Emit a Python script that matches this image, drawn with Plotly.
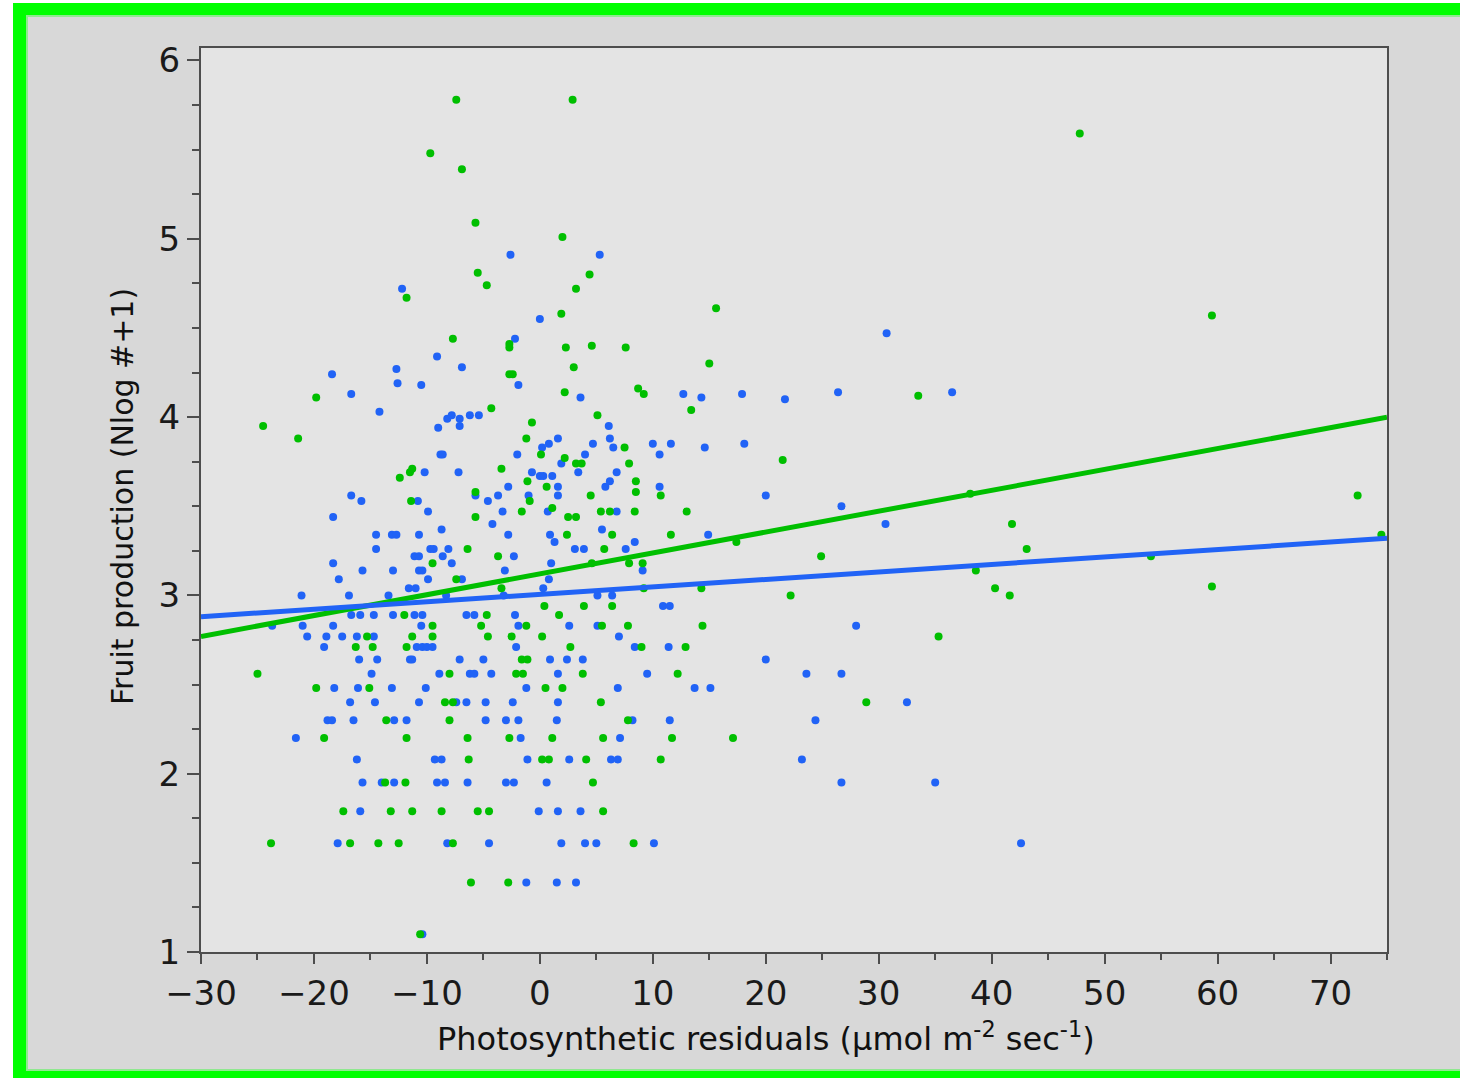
import plotly.graph_objects as go

# ---------------- data ----------------
green_x = [-7.4, 2.9, -9.7, -6.9, -5.7, 2.0, -5.5, 4.4, -4.7, 3.2, -11.8, 1.9, 47.8, 59.5, 15.6, -7.7, -2.7, -2.7, 2.3, 4.6,
           7.6, 3.0, 15.0, -2.7, -2.4, -19.8, 2.2, 8.7, 9.2, 33.5, -4.3, 13.4, -24.5, -0.7, 5.1, -21.4, -1.2, 7.5, 0.1, 2.2,
           3.2, 3.7, 7.9, 21.5, -12.4, -11.5, -11.3, -3.4, -1.1, 0.6, 8.5, 8.5, -5.7, -5.7, -0.9, 4.5, 10.7, 1.1, -1.6, 2.5,
           3.2, 5.4, 6.2, 8.4, 13.0, -11.4, 38.1, 72.4, 41.8, 43.1, 74.5, 54.1, 2.4, 6.4, 11.6, 17.4, -6.4, 5.7, -3.7, 24.9,
           -9.5, 4.6, 7.9, 9.1, 38.6, -7.4, -3.4, 9.2, 14.3, 40.3, 59.5, 22.2, 41.6, 0.4, 3.9, 6.4, -12.0, -4.7, 1.7, -9.5,
           -5.2, -1.2, 5.5, 7.8, 14.4, -15.3, -11.3, -9.5, -4.6, -2.5, 0.2, 35.3, -16.3, -14.8, -11.8, 2.7, 9.0, 12.9, -1.6, -1.1,
           -25.0, -8.0, -2.1, -1.5, 3.8, 12.2, -19.8, -15.1, 0.5, 2.0, -8.4, -7.7, 5.4, 28.9, -13.6, -8.0, 7.8, -19.1, -11.8, -6.4,
           -2.7, 1.1, 5.6, 11.7, 17.1, -6.3, 0.2, 0.8, 4.1, 10.7, -13.7, -11.9, 4.7, -17.4, -13.2, -11.3, -8.7, -5.5, -4.5, 5.6,
           -23.8, -16.8, -14.3, -12.5, -7.7, 8.3, -6.1, -2.8, -10.6]
green_y = [5.78, 5.78, 5.48, 5.39, 5.09, 5.01, 4.81, 4.80, 4.74, 4.72, 4.67, 4.58, 5.59, 4.57, 4.61, 4.44, 4.41, 4.39, 4.39, 4.40,
           4.39, 4.28, 4.30, 4.24, 4.24, 4.11, 4.14, 4.16, 4.13, 4.12, 4.05, 4.04, 3.95, 3.97, 4.01, 3.88, 3.88, 3.83, 3.79, 3.77,
           3.74, 3.74, 3.74, 3.76, 3.66, 3.69, 3.71, 3.71, 3.64, 3.61, 3.64, 3.58, 3.58, 3.44, 3.53, 3.56, 3.56, 3.49, 3.47, 3.44,
           3.44, 3.47, 3.47, 3.47, 3.47, 3.53, 3.57, 3.56, 3.40, 3.26, 3.34, 3.22, 3.34, 3.34, 3.34, 3.30, 3.26, 3.26, 3.22, 3.22,
           3.18, 3.18, 3.18, 3.18, 3.14, 3.09, 3.04, 3.04, 3.04, 3.04, 3.05, 3.00, 3.00, 2.94, 2.94, 2.94, 2.89, 2.89, 2.89, 2.83,
           2.83, 2.83, 2.83, 2.83, 2.83, 2.77, 2.77, 2.77, 2.77, 2.77, 2.77, 2.77, 2.71, 2.71, 2.71, 2.71, 2.71, 2.71, 2.64, 2.64,
           2.56, 2.56, 2.56, 2.56, 2.56, 2.56, 2.48, 2.48, 2.48, 2.48, 2.40, 2.40, 2.40, 2.40, 2.30, 2.30, 2.30, 2.20, 2.20, 2.20,
           2.20, 2.20, 2.20, 2.20, 2.20, 2.08, 2.08, 2.08, 2.08, 2.08, 1.95, 1.95, 1.95, 1.79, 1.79, 1.79, 1.79, 1.79, 1.79, 1.79,
           1.61, 1.61, 1.61, 1.61, 1.61, 1.61, 1.39, 1.39, 1.10]

blue_x = [-2.6, 5.3, -12.2, 0.0, 30.7, -2.2, -9.1, -6.9, -18.4, -12.7, -12.6, -10.5, -1.9, -16.7, 3.6, 12.7, 14.3, 17.9, 21.7, 26.4,
          36.5, -14.2, -8.2, -7.8, -7.1, -7.1, -6.2, -5.4, -9.0, 6.1, 0.2, 0.8, 1.6, 4.7, 6.2, 6.5, -8.8, -8.6, -2.0, 4.0,
          1.9, 10.0, 11.6, 10.6, 14.6, 18.1, -10.2, -7.2, -0.7, 0.0, 0.3, 1.1, 3.4, 6.8, -2.8, 1.6, 5.8, 6.2, 10.6, -16.7,
          -15.8, -10.8, -5.7, -4.6, -3.7, -1.0, 1.6, 20.0, 26.7, -9.9, -3.3, 0.7, 6.8, -18.3, 30.6, -4.2, -8.7, 5.5, -14.5, -13.1,
          -12.7, -10.7, -2.8, 0.9, 1.3, 14.9, 8.4, -14.5, -9.7, -9.4, -8.1, 3.1, 3.9, 7.6, -11.1, -10.7, -8.6, -2.3, -18.3, -7.8,
          1.0, -15.7, -13.0, -10.7, -10.4, -3.1, 9.1, -17.8, -9.9, -6.9, 0.8, -11.6, -11.0, 0.3, -21.1, -16.9, -13.4, -8.3, -3.2, 5.1,
          6.4, 10.9, 11.5, -16.7, -15.9, -14.7, -13.0, -11.1, -10.4, -6.5, -5.8, -2.2, -23.7, -21.0, -18.3, -10.5, -1.9, 2.6, 5.1, 28.0,
          -20.6, -18.9, -17.5, -16.2, -14.7, 7.0, -19.1, -10.9, -10.4, -10.0, -9.5, -2.1, 8.4, 11.4, -16.0, -14.4, -11.5, -11.3, -7.1, -5.0,
          0.9, 2.4, 3.8, 20.0, -14.9, -8.9, -6.2, -5.8, -4.3, 1.6, 9.5, 23.6, 26.7, -18.2, -16.1, -13.1, -10.1, -1.2, 6.9, 13.7,
          15.1, -16.8, -14.6, -10.7, -7.4, -6.5, -4.8, -2.4, 1.6, 32.5, -18.8, -18.4, -16.5, -12.9, -11.8, -4.8, -3.0, -1.9, 1.5, 8.2,
          11.5, 24.4, -21.6, -1.7, 7.1, -16.2, -9.3, -8.7, -1.1, 2.6, 6.3, 6.9, 23.2, -15.7, -14.0, -12.9, -9.1, -8.4, -6.4, -3.0,
          -2.3, 0.6, 26.7, 35.0, -15.9, -0.1, 1.6, 3.6, -17.9, -8.2, -4.5, 1.9, 4.0, 5.0, 10.1, 42.6, -1.2, 1.5, 3.2, -10.4]
blue_y = [4.91, 4.91, 4.72, 4.55, 4.47, 4.44, 4.34, 4.28, 4.24, 4.27, 4.19, 4.18, 4.18, 4.13, 4.11, 4.13, 4.11, 4.13, 4.10, 4.14,
          4.14, 4.03, 3.99, 4.01, 3.99, 3.95, 4.01, 4.01, 3.94, 3.95, 3.83, 3.85, 3.88, 3.85, 3.88, 3.83, 3.79, 3.79, 3.79, 3.79,
          3.74, 3.85, 3.85, 3.79, 3.83, 3.85, 3.69, 3.69, 3.69, 3.67, 3.67, 3.67, 3.69, 3.69, 3.61, 3.61, 3.61, 3.64, 3.61, 3.56,
          3.53, 3.53, 3.56, 3.53, 3.56, 3.56, 3.56, 3.56, 3.50, 3.47, 3.47, 3.47, 3.47, 3.44, 3.40, 3.40, 3.37, 3.37, 3.34, 3.34,
          3.34, 3.34, 3.34, 3.34, 3.30, 3.34, 3.30, 3.26, 3.26, 3.26, 3.26, 3.26, 3.26, 3.26, 3.22, 3.22, 3.22, 3.22, 3.18, 3.18,
          3.18, 3.14, 3.14, 3.14, 3.14, 3.14, 3.14, 3.09, 3.09, 3.09, 3.09, 3.04, 3.04, 3.04, 3.00, 3.00, 3.00, 3.00, 3.00, 3.00,
          3.00, 2.94, 2.94, 2.89, 2.89, 2.89, 2.89, 2.89, 2.89, 2.89, 2.89, 2.89, 2.83, 2.83, 2.83, 2.83, 2.83, 2.83, 2.83, 2.83,
          2.77, 2.77, 2.77, 2.77, 2.77, 2.77, 2.71, 2.71, 2.71, 2.71, 2.71, 2.71, 2.71, 2.71, 2.64, 2.64, 2.64, 2.64, 2.64, 2.64,
          2.64, 2.64, 2.64, 2.64, 2.56, 2.56, 2.56, 2.56, 2.56, 2.56, 2.56, 2.56, 2.56, 2.48, 2.48, 2.48, 2.48, 2.48, 2.48, 2.48,
          2.48, 2.40, 2.40, 2.40, 2.40, 2.40, 2.40, 2.40, 2.40, 2.40, 2.30, 2.30, 2.30, 2.30, 2.30, 2.30, 2.30, 2.30, 2.30, 2.30,
          2.30, 2.30, 2.20, 2.20, 2.20, 2.08, 2.08, 2.08, 2.08, 2.08, 2.08, 2.08, 2.08, 1.95, 1.95, 1.95, 1.95, 1.95, 1.95, 1.95,
          1.95, 1.95, 1.95, 1.95, 1.79, 1.79, 1.79, 1.79, 1.61, 1.61, 1.61, 1.61, 1.61, 1.61, 1.61, 1.61, 1.39, 1.39, 1.39, 1.10]

# regression fits: [intercept, slope]
green_fit = [3.121, 0.01171]
blue_fit = [3.006, 0.00419]
fit_x = [-30, 75]

x_ticks = [-30, -20, -10, 0, 10, 20, 30, 40, 50, 60, 70]
y_ticks = [1, 2, 3, 4, 5, 6]

GREEN = "#00bf00"
BLUE = "#2163f6"

# ---------------- figure ----------------
W, H = 1460, 1078
L, R, T, B = 201, 73, 48, 126
PW, PH = W - L - R, H - T - B


def px(xp):
    return (xp - L) / PW


def py(yp):
    return (H - B - yp) / PH


fig = go.Figure()

fig.add_trace(go.Scatter(x=blue_x, y=blue_y, mode="markers",
                         marker=dict(color=BLUE, size=8, line=dict(width=0)), showlegend=False))
fig.add_trace(go.Scatter(x=green_x, y=green_y, mode="markers",
                         marker=dict(color=GREEN, size=8, line=dict(width=0)), showlegend=False))

fig.add_trace(go.Scatter(x=fit_x, y=[green_fit[0] + green_fit[1] * v for v in fit_x], mode="lines",
                         line=dict(color=GREEN, width=5), showlegend=False))
fig.add_trace(go.Scatter(x=fit_x, y=[blue_fit[0] + blue_fit[1] * v for v in fit_x], mode="lines",
                         line=dict(color=BLUE, width=5), showlegend=False))

shapes = [
    # green frame
    dict(type="rect", xref="paper", yref="paper", x0=px(13), x1=px(1480), y0=py(1090), y1=py(3),
         fillcolor="#00ff00", line=dict(width=0), layer="below"),
    # gray panel
    dict(type="rect", xref="paper", yref="paper", x0=px(27), x1=px(1480), y0=py(1070), y1=py(16),
         fillcolor="#d8d8d8", line=dict(color="#8fe88f", width=2), layer="below"),
    # plot area
    dict(type="rect", xref="paper", yref="paper", x0=0, x1=1, y0=0, y1=1,
         fillcolor="#e4e4e4", line=dict(width=0), layer="below"),
]

tickfont = dict(family="DejaVu Sans", size=34, color="#1a1a1a")
axcol = "#4d4d4d"

fig.update_layout(
    width=W, height=H,
    margin=dict(l=L, r=R, t=T, b=B, pad=0),
    paper_bgcolor="white",
    plot_bgcolor="rgba(0,0,0,0)",
    showlegend=False,
    shapes=shapes,
    xaxis=dict(range=[-30, 75], tickvals=x_ticks, ticktext=[str(v).replace("-", "\u2212") for v in x_ticks],
               showgrid=False, zeroline=False, showline=True, mirror=True, linecolor=axcol, linewidth=2,
               ticks="outside", ticklen=10, tickwidth=2, tickcolor=axcol, tickfont=tickfont,
               minor=dict(dtick=5, tick0=0, ticks="outside", ticklen=6, tickwidth=2, tickcolor=axcol)),
    yaxis=dict(range=[1, 6.07], tickvals=y_ticks, ticktext=[str(v) for v in y_ticks],
               showgrid=False, zeroline=False, showline=True, mirror=True, linecolor=axcol, linewidth=2,
               ticks="outside", ticklen=12, tickwidth=2, tickcolor=axcol, tickfont=tickfont,
               minor=dict(dtick=0.25, tick0=0, ticks="outside", ticklen=7, tickwidth=2, tickcolor=axcol)),
    annotations=[
        dict(text="Photosynthetic residuals (\u00b5mol m<sup>-2</sup> sec<sup>-1</sup>)",
             xref="paper", yref="paper", x=px(766), y=py(1037), xanchor="center", yanchor="middle",
             showarrow=False, font=dict(family="DejaVu Sans", size=32, color="#111111")),
        dict(text="Fruit production (Nlog #+1)",
             xref="paper", yref="paper", x=px(122), y=py(497), xanchor="center", yanchor="middle",
             textangle=-90, showarrow=False, font=dict(family="DejaVu Sans", size=30, color="#111111")),
    ],
)

fig.write_html("out.html", config={"displayModeBar": False},
               post_script="document.body.style.margin='0';document.body.style.overflow='hidden';")
